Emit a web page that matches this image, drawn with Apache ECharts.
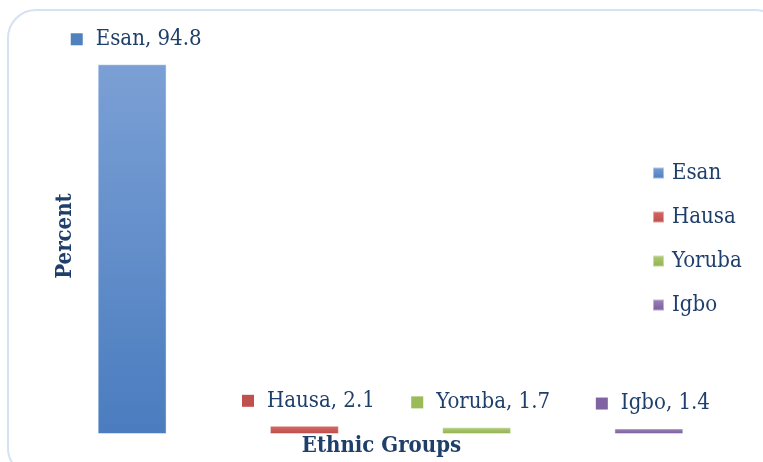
<!DOCTYPE html>
<html>
<head>
<meta charset="utf-8">
<script src="https://cdn.jsdelivr.net/npm/echarts@6/dist/echarts.min.js"></script>
<style>
  html, body { margin: 0; padding: 0; background: #ffffff; }
  #chart { width: 763px; height: 462px; }
</style>
</head>
<body>
<div id="chart"></div>
<script>
// Ethnic composition of respondents (percent)
const categories = ['Esan', 'Hausa', 'Yoruba', 'Igbo'];
const percentValues = [94.8, 2.1, 1.7, 1.4];
const yAxisRange = [0, 100];

const textColor = '#1f3f6b';
const fontFamily = '"DejaVu Serif Condensed", "DejaVu Serif", serif';

// colour per group: [top, bottom, marker]
const palette = [
  ['#7ba0d5', '#4a7cbf', '#4f81bd'],
  ['#d56b68', '#bd4b48', '#c0504d'],
  ['#b3cd7a', '#8fb04c', '#9bbb59'],
  ['#9d84ba', '#795b9c', '#8064a2']
];

function grad(c) {
  return new echarts.graphic.LinearGradient(0, 0, 0, 1, [
    { offset: 0, color: c[0] },
    { offset: 1, color: c[1] }
  ]);
}

// one series per group, overlapped in its own category slot
const series = categories.map((name, i) => ({
  name: name,
  type: 'bar',
  barWidth: '40%',
  barGap: '-100%',
  data: categories.map((_, j) => (j === i ? percentValues[i] : '-')),
  itemStyle: {
    color: grad(palette[i]),
    borderColor: 'rgba(255,255,255,0.45)',
    borderWidth: 1
  },
  label: {
    show: true,
    position: 'top',
    distance: 12,
    offset: [4, 0],
    formatter: '{m|}{g|}{t|' + name + ', ' + percentValues[i] + '}',
    rich: {
      m: { width: 12, height: 12, backgroundColor: palette[i][2], verticalAlign: 'middle' },
      g: { width: 13, height: 12 },
      t: {
        fontFamily: fontFamily, fontSize: 22, color: textColor,
        lineHeight: 26, verticalAlign: 'middle'
      }
    }
  }
}));

const chart = echarts.init(document.getElementById('chart'), null, { renderer: 'canvas' });
chart.setOption({
  animation: false,
  backgroundColor: '#ffffff',
  grid: { left: 46, right: 28, top: 44, bottom: 25 },
  xAxis: {
    type: 'category',
    data: categories,
    axisLine: { show: false },
    axisTick: { show: false },
    axisLabel: { show: false },
    name: 'Ethnic Groups',
    nameLocation: 'middle',
    nameGap: 1,
    nameTextStyle: {
      fontFamily: fontFamily, fontSize: 22, fontWeight: 'bold',
      color: textColor, verticalAlign: 'top', padding: [0, 18, 0, 0]
    }
  },
  yAxis: {
    type: 'value',
    min: yAxisRange[0],
    max: yAxisRange[1],
    show: false
  },
  legend: {
    orient: 'vertical',
    left: 652,
    top: 161,
    padding: 0,
    itemWidth: 11,
    itemHeight: 11,
    itemGap: 20,
    icon: 'rect',
    data: categories,
    textStyle: {
      fontFamily: fontFamily, fontSize: 22, color: textColor,
      lineHeight: 24, padding: [0, 0, 0, 3]
    }
  },
  graphic: [
    {
      type: 'rect',
      silent: true,
      shape: { x: 8, y: 10, width: 775, height: 466, r: 28 },
      style: { fill: 'none', stroke: '#d5e2f3', lineWidth: 2 }
    },
    {
      type: 'text',
      silent: true,
      x: 65,
      y: 236,
      rotation: Math.PI / 2,
      style: {
        text: 'Percent',
        font: 'bold 22px ' + fontFamily,
        fill: textColor,
        align: 'center',
        verticalAlign: 'middle'
      }
    }
  ],
  series: series
});
</script>
</body>
</html>
